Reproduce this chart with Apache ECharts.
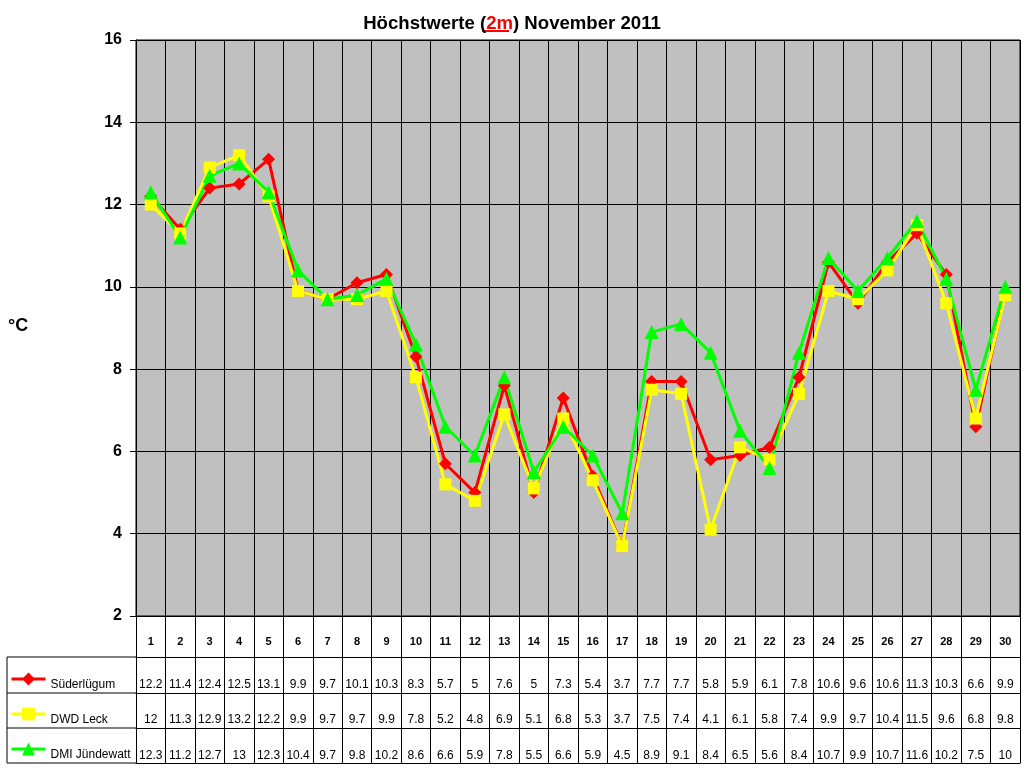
<!DOCTYPE html>
<html>
<head>
    <meta charset="utf-8">
    <script src="https://cdn.jsdelivr.net/npm/echarts@6/dist/echarts.min.js"></script>
    <style>
        body, html {
            margin: 0;
            height: 100%;
            background: #fff;
        }
        #main {
            width: 1024px;
            height: 768px;
        }
    </style>
</head>
<body>
<div id="main"></div>

<script>
    // Tage im November 2011
    var days = [];
    for (var d = 1; d <= 30; d++) days.push(String(d));

    var suederluegum = [12.2, 11.4, 12.4, 12.5, 13.1, 9.9, 9.7, 10.1, 10.3, 8.3, 5.7, 5, 7.6, 5, 7.3, 5.4, 3.7, 7.7, 7.7, 5.8, 5.9, 6.1, 7.8, 10.6, 9.6, 10.6, 11.3, 10.3, 6.6, 9.9];
    var dwdLeck = [12, 11.3, 12.9, 13.2, 12.2, 9.9, 9.7, 9.7, 9.9, 7.8, 5.2, 4.8, 6.9, 5.1, 6.8, 5.3, 3.7, 7.5, 7.4, 4.1, 6.1, 5.8, 7.4, 9.9, 9.7, 10.4, 11.5, 9.6, 6.8, 9.8];
    var dmiJuendewatt = [12.3, 11.2, 12.7, 13, 12.3, 10.4, 9.7, 9.8, 10.2, 8.6, 6.6, 5.9, 7.8, 5.5, 6.6, 5.9, 4.5, 8.9, 9.1, 8.4, 6.5, 5.6, 8.4, 10.7, 9.9, 10.7, 11.6, 10.2, 7.5, 10];

    var seriesNames = ['Süderlügum', 'DWD Leck', 'DMI Jündewatt'];
    var seriesData = [suederluegum, dwdLeck, dmiJuendewatt];
    var colors = ['#ff0000', '#ffff00', '#00ff00'];
    var symbols = ['diamond', 'rect', 'triangle'];
    var symbolSizes = [13, 12, 14];

    var font = '"Liberation Sans", Arial, sans-serif';

    // Tabellenzeilen unter dem Diagramm als zusaetzliche x-Achsen
    function tableAxis(offset, tickLen, margin, labels) {
        return {
            type: 'category',
            data: days,
            position: 'bottom',
            offset: offset,
            axisLine: {show: true, lineStyle: {color: '#000', width: 1}},
            axisTick: {show: true, length: tickLen, lineStyle: {color: '#000', width: 1}},
            axisLabel: {
                interval: 0,
                margin: margin,
                color: '#000',
                fontFamily: font,
                fontSize: 12,
                formatter: function (v, i) { return String(labels[i]); }
            },
            splitLine: {show: false}
        };
    }

    var xAxes = [
        {
            type: 'category',
            data: days,
            position: 'bottom',
            axisLine: {show: true, lineStyle: {color: '#000'}},
            axisTick: {show: true, length: 41, lineStyle: {color: '#000'}},
            axisLabel: {
                interval: 0, margin: 20, color: '#000',
                fontFamily: font, fontSize: 11, fontWeight: 'bold'
            },
            splitLine: {show: true, interval: 0, lineStyle: {color: '#000', width: 1}}
        },
        tableAxis(41, 36, 22, suederluegum),
        tableAxis(77, 35, 21, dwdLeck),
        tableAxis(112, 35, 22, dmiJuendewatt),
        {
            type: 'category', data: days, position: 'bottom', offset: 147,
            axisLine: {show: true, lineStyle: {color: '#000'}},
            axisTick: {show: false}, axisLabel: {show: false}, splitLine: {show: false}
        }
    ];

    var series = seriesNames.map(function (name, k) {
        return {
            name: name,
            type: 'line',
            xAxisIndex: 0,
            data: seriesData[k],
            symbol: symbols[k],
            symbolSize: symbolSizes[k],
            showAllSymbol: true,
            itemStyle: {color: colors[k]},
            lineStyle: {color: colors[k], width: 3},
            animation: false
        };
    });

    var myChart = echarts.init(document.getElementById('main'));
    var option = {
        animation: false,
        title: {
            text: '{a|Höchstwerte (}{r|2m}{a|) November 2011}',
            left: 'center',
            top: 9,
            textStyle: {
                rich: {
                    a: {fontFamily: font, fontSize: 18.6, fontWeight: 'bold', color: '#000'},
                    r: {fontFamily: font, fontSize: 18.6, fontWeight: 'bold', color: '#ff0000'}
                }
            }
        },
        legend: {
            orient: 'vertical',
            left: 10,
            top: 667,
            padding: 0,
            itemWidth: 34,
            itemHeight: 16,
            itemGap: 11,
            selectedMode: false,
            lineStyle: {width: 3},
            // Text etwas unterhalb des Symbols, wie im Original
            formatter: function (name) { return '\n' + name; },
            textStyle: {fontFamily: font, fontSize: 12, lineHeight: 12, color: '#000'},
            data: seriesNames
        },
        grid: {
            left: 136,
            right: 4,
            top: 40,
            bottom: 152,
            show: true,
            backgroundColor: '#c0c0c0',
            borderColor: '#000',
            borderWidth: 1
        },
        xAxis: xAxes,
        yAxis: {
            type: 'value',
            min: 2,
            max: 16,
            interval: 2,
            axisLine: {show: true, lineStyle: {color: '#000'}},
            axisTick: {show: true, length: 6, lineStyle: {color: '#000'}},
            axisLabel: {
                margin: 14, color: '#000',
                fontFamily: font, fontSize: 16, fontWeight: 'bold'
            },
            splitLine: {show: true, lineStyle: {color: '#000', width: 1}}
        },
        graphic: [
            {
                type: 'text', left: 8, top: 317,
                style: {text: '°C', font: 'bold 18px ' + font, fill: '#000'}
            },
            // Rahmen der Legendenspalte
            {type: 'line', shape: {x1: 7, y1: 657, x2: 136, y2: 657}, style: {stroke: '#000', lineWidth: 1}},
            {type: 'line', shape: {x1: 7, y1: 693, x2: 136, y2: 693}, style: {stroke: '#000', lineWidth: 1}},
            {type: 'line', shape: {x1: 7, y1: 728, x2: 136, y2: 728}, style: {stroke: '#000', lineWidth: 1}},
            {type: 'line', shape: {x1: 7, y1: 763, x2: 136, y2: 763}, style: {stroke: '#000', lineWidth: 1}},
            {type: 'line', shape: {x1: 7, y1: 657, x2: 7, y2: 763}, style: {stroke: '#000', lineWidth: 1}},
            // Unterstreichung "2m"
            {type: 'line', shape: {x1: 482, y1: 31, x2: 509, y2: 31}, style: {stroke: '#ff0000', lineWidth: 2}}
        ],
        series: series
    };
    myChart.setOption(option);
</script>
</body>
</html>
